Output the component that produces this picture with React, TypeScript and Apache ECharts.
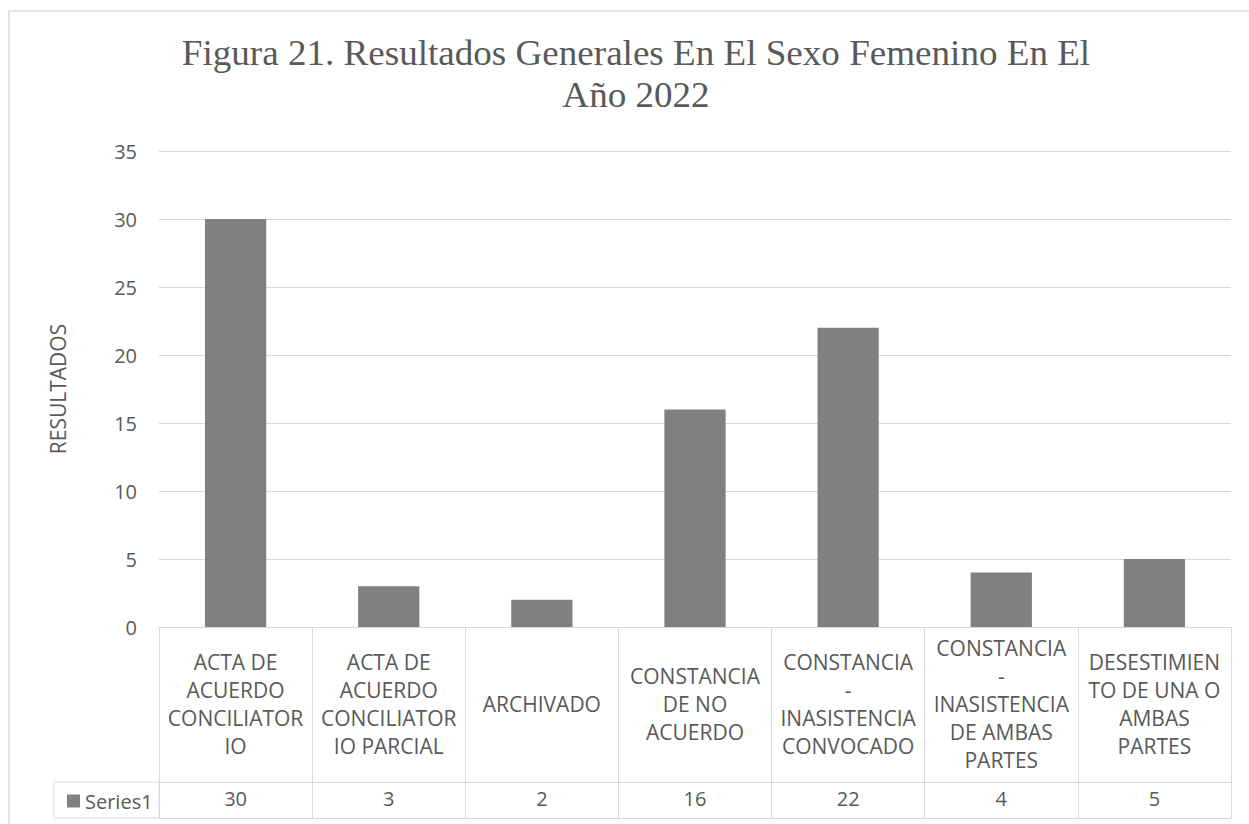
import React, { useEffect, useRef } from "react";
import * as echarts from "echarts";

const titleText = "Figura 21. Resultados Generales En El Sexo Femenino En El\nAño 2022";
const categories = [
  "ACTA DE\nACUERDO\nCONCILIATOR\nIO",
  "ACTA DE\nACUERDO\nCONCILIATOR\nIO PARCIAL",
  "ARCHIVADO",
  "CONSTANCIA\nDE NO\nACUERDO",
  "CONSTANCIA\n-\nINASISTENCIA\nCONVOCADO",
  "CONSTANCIA\n-\nINASISTENCIA\nDE AMBAS\nPARTES",
  "DESESTIMIEN\nTO DE UNA O\nAMBAS\nPARTES",
];
const seriesName = "Series1";
const values = [30, 3, 2, 16, 22, 4, 5];
const yTicks = { min: 0, max: 35, interval: 5 };
const yAxisName = "RESULTADOS";

const TEXT = "#595959";
const LINE = "#d9d9d9";
const BAR = "#808080";
const FONT = '"Open Sans"';

export default function App() {
  const ref = useRef<HTMLDivElement>(null);
  useEffect(() => {
    if (!ref.current) return;
    const chart = echarts.init(ref.current, undefined, { renderer: "svg" });
    chart.setOption({
      animation: false,
      backgroundColor: "#ffffff",
      grid: { left: 159, right: 18, top: 151, bottom: 197, containLabel: false },
      legend: {
        data: [seriesName],
        left: 62,
        top: 786,
        icon: "rect",
        itemWidth: 13,
        itemHeight: 13,
        itemGap: 5,
        textStyle: { fontSize: 20, color: TEXT, fontFamily: FONT },
        selectedMode: false,
      },
      xAxis: [
        {
          type: "category",
          data: categories,
          position: "bottom",
          axisLine: { show: true, lineStyle: { color: LINE, width: 1 } },
          axisTick: { show: true, length: 155, interval: 0, lineStyle: { color: LINE } },
          axisLabel: {
            interval: 0,
            margin: 77,
            verticalAlign: "middle",
            align: "center",
            lineHeight: 28,
            fontSize: 21,
            fontFamily: FONT,
            color: TEXT,
          },
          splitLine: { show: false },
        },
        {
          type: "category",
          data: categories,
          position: "bottom",
          offset: 155,
          axisLine: { show: true, lineStyle: { color: LINE, width: 1 } },
          axisTick: { show: true, length: 36, interval: 0, lineStyle: { color: LINE } },
          axisLabel: {
            interval: 0,
            margin: 16,
            verticalAlign: "middle",
            fontSize: 20,
            fontFamily: FONT,
            color: TEXT,
            formatter: (_v: string, i: number) => String(values[i]),
          },
        },
        {
          type: "category",
          data: categories,
          position: "bottom",
          offset: 191,
          axisLine: { show: true, lineStyle: { color: LINE, width: 1 } },
          axisTick: { show: false },
          axisLabel: { show: false },
        },
      ],
      yAxis: {
        type: "value",
        min: yTicks.min,
        max: yTicks.max,
        interval: yTicks.interval,
        axisLine: { show: false },
        axisTick: { show: false },
        axisLabel: { fontSize: 20, color: TEXT, fontFamily: FONT, margin: 22 },
        splitLine: { lineStyle: { color: LINE, width: 1 } },
        name: yAxisName,
        nameLocation: "middle",
        nameRotate: 90,
        nameGap: 91,
        nameTextStyle: { fontSize: 21, color: TEXT, fontFamily: FONT },
      },
      series: [
        {
          name: seriesName,
          type: "bar",
          xAxisIndex: 0,
          data: values,
          barWidth: "40%",
          itemStyle: { color: BAR },
        },
      ],
      graphic: [
        {
          type: "rect",
          shape: { x: 9, y: 11, width: 1400, height: 1000 },
          style: { fill: "none", stroke: LINE, lineWidth: 1.5 },
          silent: true,
          z: -1,
        },
        {
          type: "rect",
          shape: { x: 54, y: 782, width: 105, height: 36 },
          style: { fill: "none", stroke: LINE, lineWidth: 1 },
          silent: true,
        },
        {
          type: "text",
          x: 636,
          y: 32,
          scaleX: 1.06,
          style: {
            text: titleText,
            font: '35px "Liberation Serif"',
            fill: TEXT,
            textAlign: "center",
            textVerticalAlign: "top",
            lineHeight: 42,
          },
          silent: true,
        },
      ],
    });
    return () => chart.dispose();
  }, []);
  return (
    <div
      ref={ref}
      style={{ position: "absolute", left: 0, top: 0, width: 1249, height: 824 }}
    />
  );
}
